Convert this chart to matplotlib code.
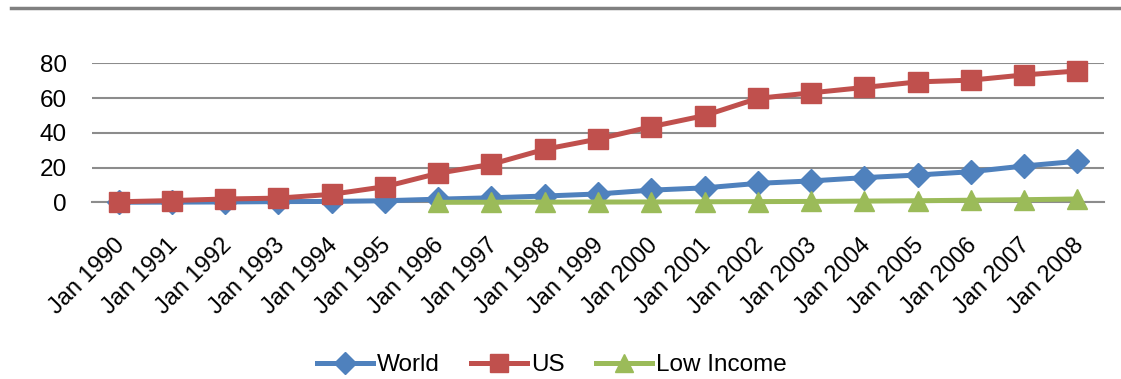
import matplotlib.pyplot as plt
import matplotlib.transforms as mtransforms
from matplotlib.lines import Line2D

plt.rcParams['font.family'] = ['Liberation Sans', 'DejaVu Sans']

years = ["Jan %d" % y for y in range(1990, 2009)]

world = [0.05, 0.1, 0.2, 0.4, 0.5, 0.9, 1.8, 2.6, 3.6, 4.8, 7.0, 8.3,
         10.9, 12.3, 14.2, 15.7, 17.6, 20.9, 23.6]
us = [0.3, 1.0, 1.9, 2.4, 4.6, 9.0, 16.7, 21.9, 30.5, 36.4, 43.5, 49.9,
      59.8, 63.0, 66.1, 69.3, 70.3, 73.3, 75.6]
low_income = [None] * 6 + [0.0, 0.05, 0.1, 0.15, 0.2, 0.3,
                           0.4, 0.5, 0.7, 0.9, 1.2, 1.5, 1.9]

yticks = [0, 20, 40, 60, 80]

blue = '#4F81BD'
red = '#C0504D'
green = '#9BBB59'

fig = plt.figure(figsize=(11.21, 3.79), dpi=100)
ax = fig.add_axes([92 / 1121, 1 - 202.3 / 379, 1012 / 1121, 139 / 379])

x = list(range(len(years)))
li_x = [i for i, v in zip(x, low_income) if v is not None]
li_y = [v for v in low_income if v is not None]

ax.plot(x, world, color=blue, lw=3.6, marker='D', markersize=12,
        label='World', zorder=3, clip_on=False)
ax.plot(x, us, color=red, lw=3.6, marker='s', markersize=15,
        label='US', zorder=4, clip_on=False)
ax.plot(li_x, li_y, color=green, lw=3.6, marker='^', markersize=15,
        label='Low Income', zorder=5, clip_on=False)

ax.set_xlim(-0.5, len(years) - 0.5)
ax.set_ylim(0, 80)
ax.set_yticks(yticks)
ax.set_yticklabels([str(v) for v in yticks], fontsize=17.5)
ax.set_xticks(x)
ax.set_xticklabels(years, fontsize=17, rotation=45, ha='right',
                   rotation_mode='anchor')
ax.tick_params(axis='both', length=0)
ax.tick_params(axis='x', pad=23)
ax.tick_params(axis='y', pad=18)

# nudge the slanted labels a little to the left
shift = mtransforms.ScaledTranslation(-5 / 100, 0, fig.dpi_scale_trans)
for lbl in ax.get_xticklabels():
    lbl.set_transform(lbl.get_transform() + shift)

ax.grid(axis='y', color='#8c8c8c', lw=1.5, zorder=0)
for side in ['top', 'right', 'left']:
    ax.spines[side].set_visible(False)
ax.spines['bottom'].set_color('#8c8c8c')
ax.spines['bottom'].set_linewidth(1.5)

fig.legend(loc='center', bbox_to_anchor=(552 / 1121, 1 - 365 / 379),
           ncol=3, frameon=False, fontsize=17.5, handlelength=2.3,
           handletextpad=0.16, columnspacing=1.3, markerscale=0.9)

# grey rule along the top of the figure
fig.add_artist(Line2D([11 / 1121, 1.0], [1 - 8 / 379, 1 - 8 / 379],
                      color='#808080', lw=2.5))

fig.savefig('out.png', dpi=100)
